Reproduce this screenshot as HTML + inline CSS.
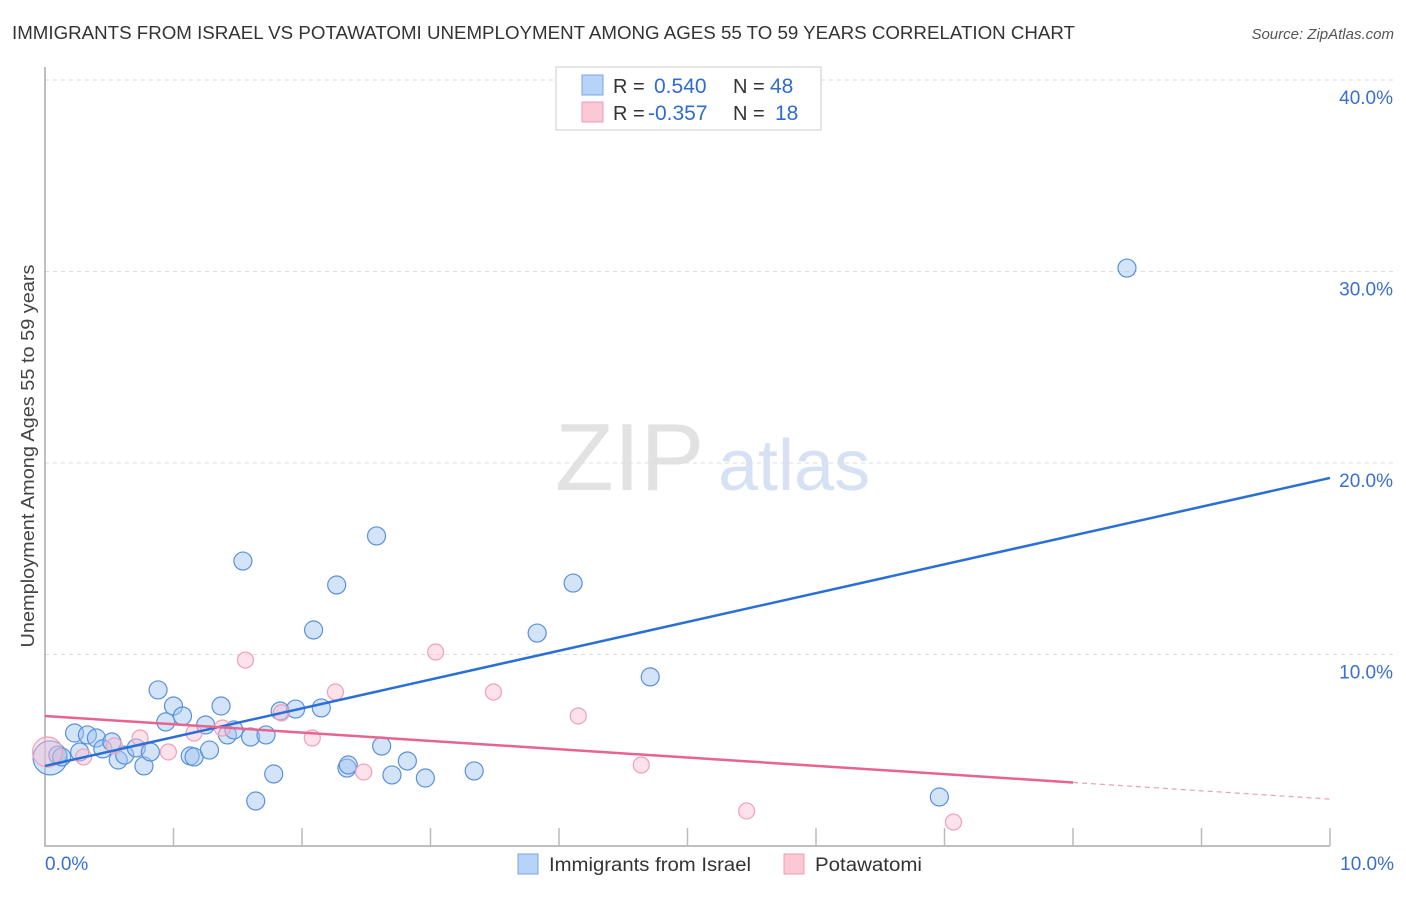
<!DOCTYPE html>
<html><head><meta charset="utf-8"><style>
body{margin:0;background:#fff;font-family:"Liberation Sans",sans-serif;}
svg text{font-family:"Liberation Sans",sans-serif;}
</style></head><body>
<svg id="chart" width="1406" height="892" xmlns="http://www.w3.org/2000/svg">
<text x="12" y="39" font-size="18" fill="#333" textLength="1063" lengthAdjust="spacingAndGlyphs">IMMIGRANTS FROM ISRAEL VS POTAWATOMI UNEMPLOYMENT AMONG AGES 55 TO 59 YEARS CORRELATION CHART</text>
<text x="1394" y="39" font-size="15" fill="#555" font-style="italic" text-anchor="end">Source: ZipAtlas.com</text>
<text transform="translate(34,456) rotate(-90)" font-size="18" fill="#444" text-anchor="middle" textLength="383" lengthAdjust="spacingAndGlyphs">Unemployment Among Ages 55 to 59 years</text>
<text x="555" y="490" font-size="96" fill="#e2e2e2" font-family="Liberation Serif">ZIP</text>
<text x="718" y="490" font-size="72" fill="#d6e2f3">atlas</text>
<g id="grid"></g><g id="axes"></g><g id="marks"></g><g id="lines"></g>
<g>
<rect x="556" y="67" width="265" height="63" fill="#fff" stroke="#ccc"/>
<rect x="582" y="75" width="21" height="20" fill="#b8d3f8" stroke="#7aa6e8"/>
<rect x="582" y="102" width="21" height="20" fill="#fbc8d6" stroke="#f09ab4"/>
<text x="613" y="93" font-size="20" fill="#333">R =</text>
<text x="654" y="93" font-size="21" fill="#2f6bd0">0.540</text>
<text x="733" y="93" font-size="20" fill="#333">N =</text>
<text x="770" y="93" font-size="21" fill="#2f6bd0">48</text>
<text x="613" y="120" font-size="20" fill="#333">R =</text>
<text x="648" y="120" font-size="21" fill="#2f6bd0">-0.357</text>
<text x="733" y="120" font-size="20" fill="#333">N =</text>
<text x="775" y="120" font-size="21" fill="#2f6bd0">18</text>
</g>
<g>
<rect x="518" y="854" width="20" height="20" fill="#b8d3f8" stroke="#7aa6e8"/>
<text x="549" y="871" font-size="19" fill="#333" textLength="202" lengthAdjust="spacingAndGlyphs">Immigrants from Israel</text>
<rect x="784" y="854" width="20" height="20" fill="#fbc8d6" stroke="#f09ab4"/>
<text x="815" y="871" font-size="19" fill="#333" textLength="107" lengthAdjust="spacingAndGlyphs">Potawatomi</text>
</g>
</svg>
<script>
const yTicks=[10,20,30,40];
const yTickLabels=["10.0%","20.0%","30.0%","40.0%"];
const xTickLabels=["0.0%","10.0%"];
const blueX=[0.04,0.10,0.13,0.23,0.27,0.33,0.40,0.45,0.52,0.57,0.62,0.71,0.77,0.82,0.88,0.94,1.00,1.07,1.13,1.16,1.25,1.28,1.37,1.42,1.47,1.60,1.54,1.64,1.72,1.78,1.83,1.95,2.09,2.15,2.27,2.35,2.36,2.58,2.62,2.70,2.82,2.96,3.34,3.83,4.11,4.71,6.96,8.42];
const blueY=[4.60,4.75,4.65,5.90,4.91,5.80,5.64,5.07,5.43,4.49,4.75,5.12,4.18,4.91,8.15,6.48,7.31,6.79,4.70,4.65,6.32,5.01,7.31,5.80,6.06,5.69,14.88,2.35,5.80,3.76,7.05,7.15,11.28,7.21,13.63,4.07,4.23,16.19,5.22,3.71,4.44,3.55,3.92,11.12,13.73,8.83,2.56,30.18];
const pinkX=[0.02,0.30,0.54,0.74,0.96,1.16,1.38,1.56,1.84,2.08,2.26,2.48,3.04,3.49,4.15,4.64,5.46,7.07];
const pinkY=[4.91,4.65,5.22,5.64,4.91,5.90,6.16,9.71,6.95,5.64,8.04,3.86,10.13,8.04,6.79,4.23,1.83,1.25];
const blueTrend=[4.18,19.22];
const pinkTrend=[6.79,2.45];
const pinkSolidEnd=8.0;
const NS="http://www.w3.org/2000/svg";
const X=v=>45+v*128.5, Y=v=>846-v*19.15;
function mk(tag,attrs,parent){const e=document.createElementNS(NS,tag);for(const k in attrs)e.setAttribute(k,attrs[k]);document.getElementById(parent).appendChild(e);return e;}
yTicks.forEach((t,i)=>{
 const g=mk('line',{x1:45,x2:1394,y1:Y(t),y2:Y(t),stroke:'#ddd','stroke-dasharray':'4,4'},'grid');
 
 
 const l=mk('text',{x:1393,y:Y(t)+24,'font-size':19,fill:'#3a6fd0','text-anchor':'end'},'grid');
 l.textContent=yTickLabels[i];
 
 
});
const ax=mk('path',{d:'M45,67 V846 H1330',stroke:'#aaa',fill:'none','stroke-width':1.5},'axes');


for(let i=1;i<=10;i++){
 const t=mk('line',{x1:X(i),x2:X(i),y1:828,y2:846,stroke:'#bbb','stroke-width':1.5},'axes');
 
 
}
[[0,'start',45],[10,'end',1394]].forEach((d,i)=>{
 const l=mk('text',{x:d[2],y:870,'font-size':19,fill:'#3a6fd0','text-anchor':d[1]},'axes');
 l.textContent=xTickLabels[i];
 
 
});
blueX.forEach((x,i)=>{
 const c=mk('circle',{cx:X(x),cy:Y(blueY[i]),r:i==0?17:9,fill:'rgba(160,195,240,0.45)',stroke:'#5a90dc','stroke-width':1.2},'marks');
 
 
});
pinkX.forEach((x,i)=>{
 const c=mk('circle',{cx:X(x),cy:Y(pinkY[i]),r:i==0?15:8,fill:'rgba(250,190,210,0.45)',stroke:'#f0a0b8','stroke-width':1.2},'marks');
 
 
});
const bl=mk('line',{x1:X(0),y1:Y(blueTrend[0]),x2:X(10),y2:Y(blueTrend[1]),stroke:'#2a6fd6','stroke-width':2.5},'lines');


const pAt=v=>pinkTrend[0]+(pinkTrend[1]-pinkTrend[0])*v/10;
const pl=mk('line',{x1:X(0),y1:Y(pAt(0)),x2:X(pinkSolidEnd),y2:Y(pAt(pinkSolidEnd)),stroke:'#e8648f','stroke-width':2.5},'lines');


const pd=mk('line',{x1:X(pinkSolidEnd),y1:Y(pAt(pinkSolidEnd)),x2:X(10),y2:Y(pAt(10)),stroke:'#e8a0b8','stroke-width':1.2,'stroke-dasharray':'5,4'},'lines');


</script>
</body></html>
